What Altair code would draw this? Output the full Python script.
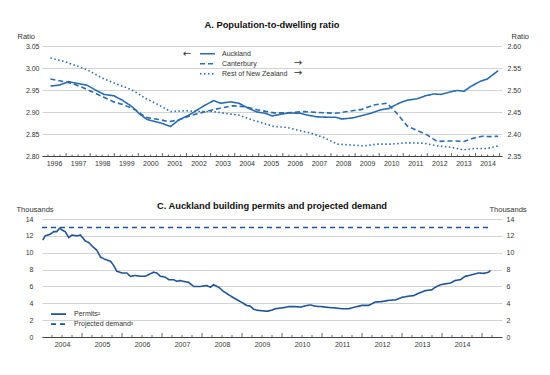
import altair as alt
import pandas as pd

# ---------------- Panel A: population-to-dwelling ratio ----------------
series_a = ["Auckland", "Canterbury", "Rest of New Zealand"]

auck_t = [1996.35, 1996.70, 1997.11, 1997.46, 1997.87, 1998.22, 1998.57, 1998.98, 1999.33, 1999.74,
          2000.02, 2000.36, 2000.71, 2000.99, 2001.34, 2001.68, 2002.10, 2002.37, 2002.72, 2003.13,
          2003.41, 2003.83, 2004.17, 2004.59, 2004.93, 2005.28, 2005.56, 2005.83, 2006.24, 2006.73,
          2007.01, 2007.42, 2007.91, 2008.19, 2008.46, 2008.95, 2009.29, 2009.64, 2010.06, 2010.40,
          2010.82, 2011.17, 2011.58, 2011.93, 2012.28, 2012.55, 2012.90, 2013.24, 2013.52, 2013.80,
          2014.21, 2014.49, 2014.94]
auck_v = [2.959, 2.961, 2.969, 2.965, 2.961, 2.950, 2.940, 2.937, 2.927, 2.912,
          2.897, 2.883, 2.878, 2.874, 2.867, 2.882, 2.893, 2.902, 2.914, 2.926,
          2.920, 2.923, 2.920, 2.908, 2.900, 2.897, 2.891, 2.894, 2.898, 2.897,
          2.893, 2.889, 2.888, 2.888, 2.884, 2.887, 2.892, 2.897, 2.905, 2.908,
          2.920, 2.927, 2.930, 2.937, 2.941, 2.940, 2.945, 2.949, 2.947, 2.958,
          2.970, 2.975, 2.994]

cant_t = [1996.35, 1996.83, 1997.25, 1997.67, 1998.08, 1998.50, 1998.98, 1999.40, 1999.88, 2000.30,
          2000.85, 2001.27, 2001.68, 2002.23, 2002.79, 2003.34, 2003.89, 2004.45, 2004.93, 2005.63,
          2006.18, 2006.87, 2007.42, 2008.19, 2008.67, 2009.29, 2009.78, 2010.33, 2010.75, 2011.17,
          2011.58, 2011.99, 2012.41, 2012.82, 2013.17, 2013.52, 2013.87, 2014.28, 2014.62, 2014.94]
cant_v = [2.525, 2.520, 2.515, 2.506, 2.496, 2.485, 2.473, 2.466, 2.455, 2.438,
          2.433, 2.428, 2.432, 2.443, 2.451, 2.458, 2.464, 2.462, 2.455, 2.448,
          2.448, 2.451, 2.449, 2.447, 2.451, 2.456, 2.466, 2.470, 2.446, 2.418,
          2.408, 2.398, 2.383, 2.384, 2.384, 2.383, 2.390, 2.395, 2.394, 2.395]

rest_t = [1996.35, 1996.97, 1997.53, 1997.94, 1998.50, 1999.05, 1999.74, 2000.30, 2000.85, 2001.34,
          2001.96, 2002.51, 2003.06, 2003.62, 2004.17, 2004.73, 2005.28, 2005.63, 2006.18, 2006.59,
          2007.15, 2007.70, 2008.26, 2008.81, 2009.36, 2009.92, 2010.47, 2011.17, 2011.86, 2012.41,
          2012.96, 2013.52, 2013.93, 2014.49, 2014.94]
rest_v = [2.573, 2.564, 2.553, 2.544, 2.527, 2.515, 2.500, 2.481, 2.466, 2.451,
          2.453, 2.451, 2.451, 2.447, 2.443, 2.432, 2.423, 2.417, 2.415, 2.409,
          2.402, 2.392, 2.377, 2.375, 2.373, 2.377, 2.377, 2.380, 2.379, 2.373,
          2.370, 2.364, 2.367, 2.367, 2.373]

ratio_left_ticks = [2.80, 2.85, 2.90, 2.95, 3.00, 3.05]
ratio_right_ticks = [2.35, 2.40, 2.45, 2.50, 2.55, 2.60]
years_a = list(range(1996, 2015))

# ---------------- Panel C: Auckland building permits ----------------
series_c = ["Permits\u00b2", "Projected demand\u00b3"]
perm_t = [2004.02, 2004.08, 2004.21, 2004.29, 2004.37, 2004.44, 2004.50, 2004.58, 2004.67, 2004.75,
          2004.87, 2004.96, 2005.08, 2005.17, 2005.25, 2005.37, 2005.46, 2005.58, 2005.71, 2005.79,
          2005.87, 2006.00, 2006.12, 2006.21, 2006.33, 2006.46, 2006.58, 2006.71, 2006.79, 2006.87,
          2006.96, 2007.08, 2007.17, 2007.29, 2007.37, 2007.46, 2007.54, 2007.66, 2007.79, 2007.96,
          2008.12, 2008.21, 2008.29, 2008.42, 2008.54, 2008.67, 2008.79, 2008.96, 2009.12, 2009.21,
          2009.29, 2009.42, 2009.54, 2009.62, 2009.75, 2009.83, 2010.00, 2010.17, 2010.33, 2010.46,
          2010.58, 2010.71, 2010.83, 2011.00, 2011.17, 2011.33, 2011.50, 2011.67, 2011.83, 2012.00,
          2012.17, 2012.33, 2012.50, 2012.67, 2012.83, 2013.00, 2013.17, 2013.29, 2013.42, 2013.58,
          2013.75, 2013.83, 2013.96, 2014.08, 2014.21, 2014.33, 2014.46, 2014.58, 2014.71, 2014.83,
          2014.92, 2015.04, 2015.17, 2015.21]
perm_v = [11.5, 12.0, 12.2, 12.5, 12.5, 12.9, 12.7, 12.5, 11.8, 12.1,
          12.0, 12.1, 11.4, 11.2, 10.8, 10.3, 9.5, 9.2, 9.0, 8.5,
          7.8, 7.6, 7.6, 7.2, 7.3, 7.2, 7.2, 7.5, 7.7, 7.6,
          7.2, 7.1, 6.8, 6.8, 6.6, 6.7, 6.6, 6.5, 6.0, 6.0,
          6.1, 5.9, 6.2, 5.9, 5.4, 5.0, 4.65, 4.2, 3.75, 3.65,
          3.3, 3.15, 3.1, 3.05, 3.2, 3.35, 3.45, 3.6, 3.6, 3.55,
          3.7, 3.8, 3.65, 3.6, 3.5, 3.45, 3.35, 3.35, 3.55, 3.75,
          3.75, 4.15, 4.2, 4.35, 4.4, 4.7, 4.85, 4.9, 5.2, 5.5,
          5.6, 5.9, 6.2, 6.3, 6.4, 6.7, 6.8, 7.2, 7.35, 7.5,
          7.6, 7.55, 7.7, 7.9]
demand_t = [2004.0, 2015.25]
demand_v = [13.0, 13.0]

thousands_ticks = [0, 2, 4, 6, 8, 10, 12, 14]
years_c = list(range(2004, 2015))

# ---------------- styling ----------------
FONT = "Liberation Sans"
TXT = "#333333"
GRID = "#d3d3d3"
BLUE_A = "#2a6cb0"
BLUE_C = "#1f5497"
W = 460
HA = 110
HC = 118

df_auck = pd.DataFrame({"t": auck_t, "v": auck_v, "series": series_a[0]})
df_other = pd.concat([
    pd.DataFrame({"t": cant_t, "v": cant_v, "series": series_a[1]}),
    pd.DataFrame({"t": rest_t, "v": rest_v, "series": series_a[2]}),
])
df_perm = pd.DataFrame({"t": perm_t, "v": perm_v, "series": series_c[0]})
df_dem = pd.DataFrame({"t": demand_t, "v": demand_v, "series": series_c[1]})

def minor(years):
    return [y + q / 4 for y in years for q in (1, 2, 3)]

df_ticks_a_major = pd.DataFrame({"t": years_a[1:] + [years_a[-1] + 1]})
df_ticks_a_minor = pd.DataFrame({"t": minor(years_a)})
df_ticks_c_major = pd.DataFrame({"t": years_c[1:] + [years_c[-1] + 1]})
df_ticks_c_minor = pd.DataFrame({"t": minor(years_c) + [2015.25]})

def x_enc(domain, offset, vals):
    return alt.X("t:Q", scale=alt.Scale(domain=domain, nice=False, zero=False),
                 axis=alt.Axis(values=vals, format="d",
                               labelOffset=offset, ticks=False, grid=False,
                               domainColor="#444444", domainWidth=1, labelFlush=False,
                               labelOverlap=False, labelFontSize=7, labelFont=FONT,
                               labelColor=TXT, labelPadding=3, title=None))

def y_axis(vals, fmt, orient, grid, title, tx, pad):
    return alt.Axis(orient=orient, values=vals, format=fmt, grid=grid, gridColor=GRID,
                    gridWidth=1, ticks=False, domain=False, labelPadding=pad,
                    labelFontSize=7, labelFont=FONT, labelColor=TXT,
                    title=title, titleAngle=0, titleAlign="left", titleBaseline="alphabetic",
                    titleX=tx, titleY=-8, titleFontSize=7.5, titleFontWeight="normal",
                    titleFont=FONT, titleColor=TXT)

# ---------- Panel A chart ----------
xa = x_enc([1996, 2015.1], 12, years_a)
dash_a = alt.Scale(domain=series_a, range=[[1, 0], [5, 3], [1.5, 2.5]])
leg_a = alt.Legend(orient="none", legendX=157, legendY=3, title=None, symbolType="stroke",
                   symbolSize=225, symbolStrokeWidth=1.6, symbolStrokeColor=BLUE_A,
                   labelFontSize=7, labelFont=FONT, labelColor=TXT, labelOffset=6,
                   clipHeight=9.5, rowPadding=0, padding=0)

auck_line = alt.Chart(df_auck).mark_line(color=BLUE_A, strokeWidth=1.6).encode(
    x=xa,
    y=alt.Y("v:Q", scale=alt.Scale(domain=[2.80, 3.05], nice=False, zero=False),
            axis=y_axis(ratio_left_ticks, ".2f", "left", True, "Ratio", -25, 3)),
    strokeDash=alt.StrokeDash("series:N", scale=dash_a, legend=leg_a),
)
other_lines = alt.Chart(df_other).mark_line(color=BLUE_A, strokeWidth=1.6).encode(
    x=xa,
    y=alt.Y("v:Q", scale=alt.Scale(domain=[2.35, 2.60], nice=False, zero=False),
            axis=y_axis(ratio_right_ticks, ".2f", "right", False, "Ratio", 9, 5)),
    strokeDash=alt.StrokeDash("series:N", scale=dash_a, legend=leg_a),
)
ticks_a1 = alt.Chart(df_ticks_a_major).mark_rule(color="#444444", strokeWidth=0.8).encode(
    x=xa, y=alt.value(HA), y2=alt.value(HA - 3))
ticks_a2 = alt.Chart(df_ticks_a_minor).mark_rule(color="#444444", strokeWidth=0.8).encode(
    x=xa, y=alt.value(HA), y2=alt.value(HA - 1.5))

arrows_a = pd.DataFrame({"a": ["\u2190", "\u2192", "\u2192"], "px": [145, 256, 256],
                         "py": [7.5, 17, 26.5]})
arrow_marks = [
    alt.Chart(arrows_a.iloc[[i]]).mark_text(fontSize=10, font="DejaVu Sans", color=TXT).encode(
        text="a:N", x=alt.value(float(arrows_a.px[i])), y=alt.value(float(arrows_a.py[i])))
    for i in range(3)
]

panel_a = alt.layer(auck_line, other_lines, ticks_a1, ticks_a2, *arrow_marks).resolve_scale(
    y="independent").properties(
    width=W, height=HA,
    title=alt.TitleParams("A. Population-to-dwelling ratio", fontSize=9.3, fontWeight="bold",
                          font=FONT, anchor="middle", frame="group", offset=-5,
                          baseline="alphabetic", color="#111111"))

# ---------- Panel C chart ----------
xc = x_enc([2004, 2015.5], 20, years_c)
dash_c = alt.Scale(domain=series_c, range=[[1, 0], [5, 4]])
leg_c = alt.Legend(orient="none", legendX=8, legendY=90.5, title=None, symbolType="stroke",
                   symbolSize=225, symbolStrokeWidth=1.6, symbolStrokeColor=BLUE_C,
                   labelFontSize=7, labelFont=FONT, labelColor=TXT, labelOffset=7,
                   clipHeight=9.3, rowPadding=0, padding=0)
perm_line = alt.Chart(df_perm).mark_line(color=BLUE_C, strokeWidth=1.6).encode(
    x=xc,
    y=alt.Y("v:Q", scale=alt.Scale(domain=[0, 14], nice=False),
            axis=y_axis(thousands_ticks, "d", "left", True, "Thousands", -26, 9)),
    strokeDash=alt.StrokeDash("series:N", scale=dash_c, legend=leg_c),
)
dem_line = alt.Chart(df_dem).mark_line(color=BLUE_C, strokeWidth=1.6).encode(
    x=xc,
    y=alt.Y("v:Q", scale=alt.Scale(domain=[0, 14], nice=False),
            axis=y_axis(thousands_ticks, "d", "right", False, "Thousands", -13, 4)),
    strokeDash=alt.StrokeDash("series:N", scale=dash_c, legend=leg_c),
)
ticks_c1 = alt.Chart(df_ticks_c_major).mark_rule(color="#444444", strokeWidth=0.8).encode(
    x=xc, y=alt.value(HC), y2=alt.value(HC - 4))
ticks_c2 = alt.Chart(df_ticks_c_minor).mark_rule(color="#444444", strokeWidth=0.8).encode(
    x=xc, y=alt.value(HC), y2=alt.value(HC - 2))

panel_c = alt.layer(perm_line, dem_line, ticks_c1, ticks_c2).resolve_scale(
    y="independent").properties(
    width=W, height=HC,
    title=alt.TitleParams("C. Auckland building permits and projected demand", fontSize=9.3,
                          fontWeight="bold", font=FONT, anchor="middle", frame="group",
                          offset=-13, baseline="alphabetic", color="#111111"))

chart = alt.vconcat(panel_a, panel_c, spacing=35).resolve_scale(
    strokeDash="independent").properties(
    padding={"left": 16, "top": 20, "right": 10, "bottom": 5},
    background="white",
).configure_view(stroke=None)

chart.save("out.html", embed_options={"renderer": "svg", "actions": False})
